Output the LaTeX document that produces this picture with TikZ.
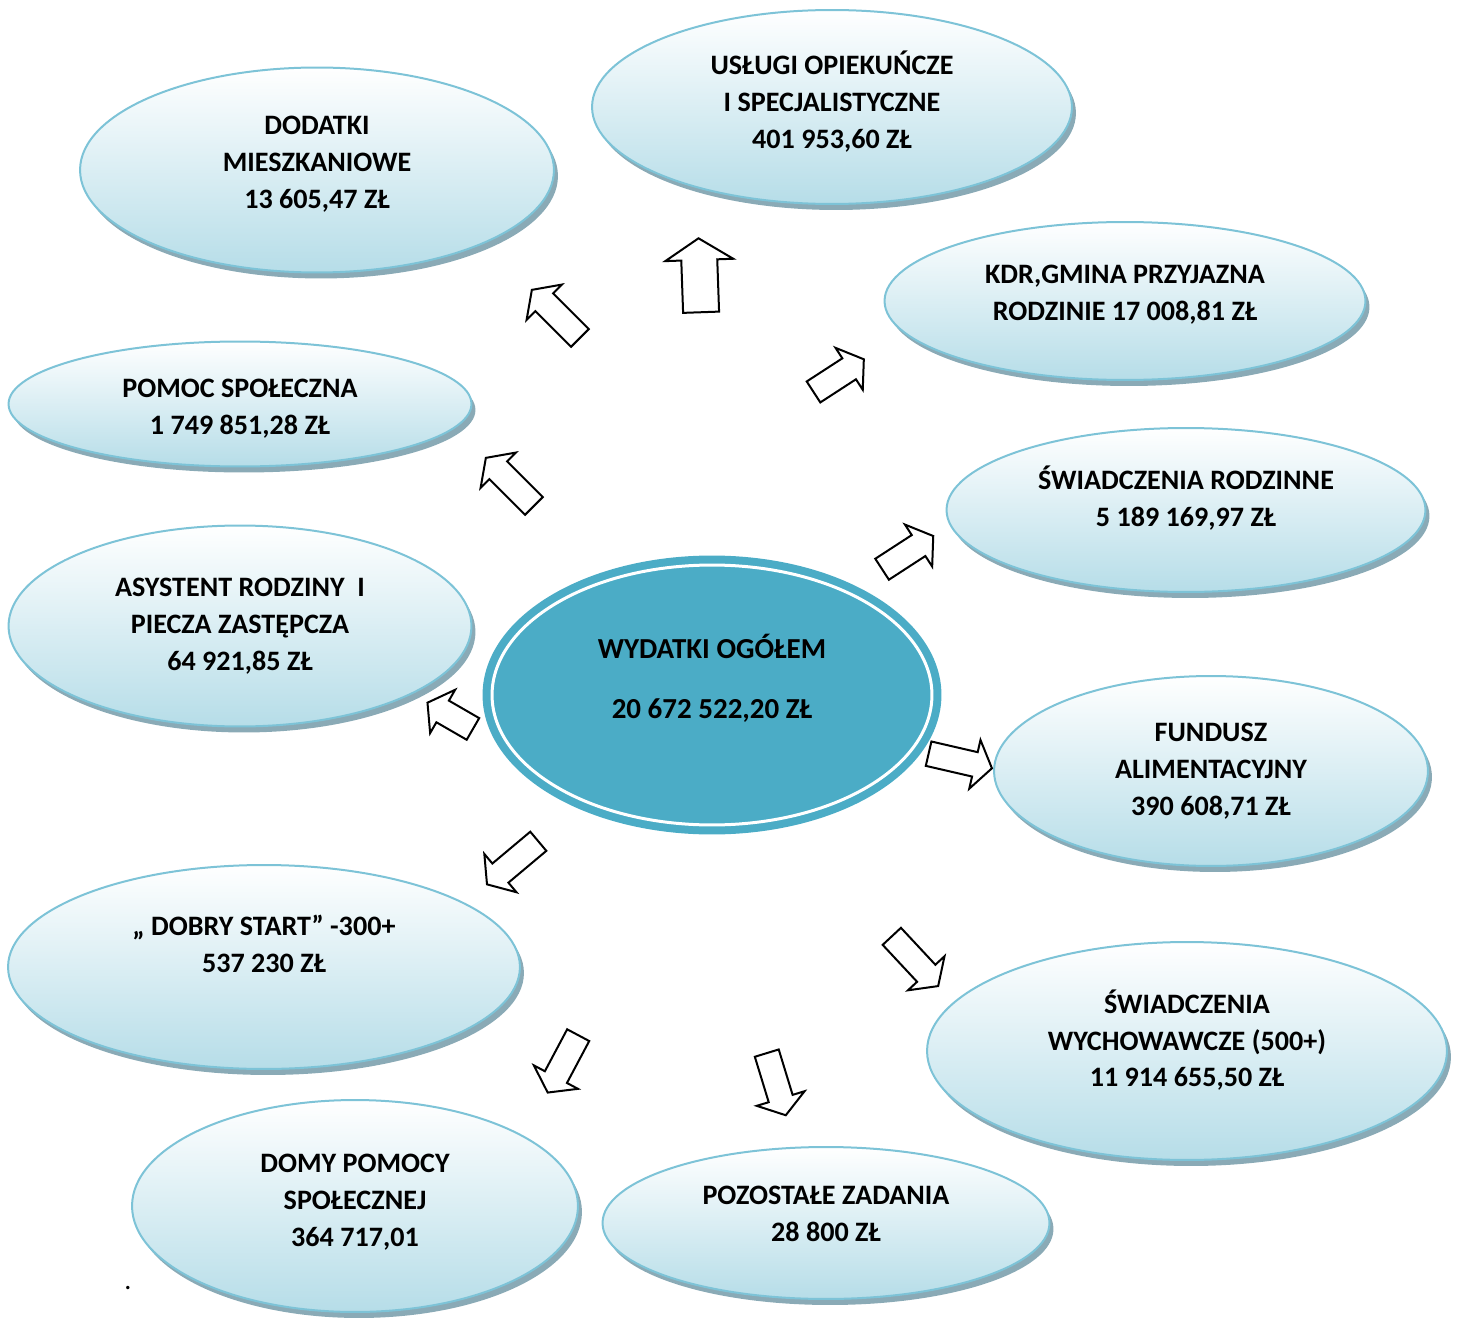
\documentclass[tikz,border=0pt]{standalone}
\usepackage{fontspec}
\setmainfont{Carlito}
\usetikzlibrary{shapes.geometric,shapes.arrows,shadows}
\definecolor{bubbleedge}{RGB}{125,195,215}
\definecolor{bubblebottom}{RGB}{182,221,232}
\definecolor{bubbleshadow}{RGB}{138,170,182}
\definecolor{centercolor}{RGB}{75,172,198}

\begin{document}
\begin{tikzpicture}[x=0.02cm,y=0.02cm,
    bubble/.style={ellipse, draw=bubbleedge, line width=0.04cm,
        top color=white, bottom color=bubblebottom, inner sep=0pt, align=center,
        font=\fontsize{16}{21}\selectfont\bfseries,
        drop shadow={fill=bubbleshadow, opacity=1, shadow xshift=0.08cm, shadow yshift=-0.12cm}},
    blockarrow/.style={single arrow, draw=black, fill=white, line width=0.04cm,
        inner sep=0.23cm, minimum height=1.3cm,
        single arrow head extend=0.25cm, single arrow tip angle=110}]
    % Page frame
    \useasboundingbox (0,0) rectangle (1461,-1321);

    % Central ellipse
    \node[ellipse, fill=centercolor, draw=centercolor, double=white, double distance=0.06cm,
        line width=0.16cm, minimum width=8.8cm, minimum height=5.2cm, inner sep=0pt,
        align=center, font=\fontsize{16.5}{21}\selectfont\bfseries]
        (total) at (712,-695) {WYDATKI OGÓŁEM\\[13pt]20 672 522,20 ZŁ\\\mbox{}};

    % Expense groups
    \node[bubble, minimum width=9.48cm, minimum height=4.10cm] (dodatki) at (317,-170)
        {DODATKI\\MIESZKANIOWE\\13 605,47 ZŁ\\[-12pt]\mbox{}};
    \node[bubble, minimum width=9.60cm, minimum height=3.88cm] (uslugi) at (832,-107)
        {USŁUGI OPIEKUŃCZE\\I SPECJALISTYCZNE\\401 953,60 ZŁ\\[-13pt]\mbox{}};
    \node[bubble, minimum width=9.62cm, minimum height=3.16cm] (kdr) at (1125,-301)
        {KDR,GMINA PRZYJAZNA\\RODZINIE 17 008,81 ZŁ\\[-12pt]\mbox{}};
    \node[bubble, minimum width=9.26cm, minimum height=2.50cm] (pomoc) at (240,-404)
        {\mbox{}\\[-5pt]POMOC SPOŁECZNA\\1 749 851,28 ZŁ};
    \node[bubble, minimum width=9.58cm, minimum height=3.28cm] (rodzinne) at (1186,-510)
        {ŚWIADCZENIA RODZINNE\\5 189 169,97 ZŁ\\[-5pt]\mbox{}};
    \node[bubble, minimum width=9.26cm, minimum height=4.02cm] (asystent) at (240,-626)
        {ASYSTENT RODZINY~~I\\PIECZA ZASTĘPCZA\\64 921,85 ZŁ};
    \node[bubble, minimum width=8.68cm, minimum height=3.80cm] (fundusz) at (1211,-771)
        {FUNDUSZ\\ALIMENTACYJNY\\390 608,71 ZŁ};
    \node[bubble, minimum width=10.24cm, minimum height=4.08cm] (dobrystart) at (264,-967)
        {„ DOBRY START” -300+\\537 230 ZŁ\\[5pt]\mbox{}};
    \node[bubble, minimum width=10.40cm, minimum height=4.36cm] (wychowawcze) at (1187,-1051)
        {ŚWIADCZENIA\\WYCHOWAWCZE (500+)\\11 914 655,50 ZŁ\\[-6.5pt]\mbox{}};
    \node[bubble, minimum width=8.92cm, minimum height=4.24cm] (domy) at (355,-1206)
        {DOMY POMOCY\\SPOŁECZNEJ\\364 717,01\\[-14.5pt]\mbox{}};
    \node[bubble, minimum width=8.94cm, minimum height=3.04cm] (pozostale) at (826,-1223)
        {POZOSTAŁE ZADANIA\\28 800 ZŁ\\[-11pt]\mbox{}};

    % Block arrows
    \node[blockarrow, rotate=135, minimum height=1.36cm] (toDodatki) at (559,-317) {};
    \node[blockarrow, rotate=92, inner sep=0.34cm, minimum height=1.48cm,
        single arrow head extend=0.32cm, single arrow tip angle=115] (toUslugi) at (700,-281) {};
    \node[blockarrow, rotate=33, minimum height=1.2cm] (toKdr) at (835,-378) {};
    \node[blockarrow, rotate=135, minimum height=1.36cm] (toPomoc) at (513,-485) {};
    \node[blockarrow, rotate=33, minimum height=1.22cm] (toRodzinne) at (904,-555) {};
    \node[blockarrow, rotate=150, minimum height=1.05cm] (toAsystent) at (454,-718) {};
    \node[blockarrow, rotate=-13] (toFundusz) at (956,-760) {};
    \node[blockarrow, rotate=220, minimum height=1.34cm] (toDobry) at (516,-860) {};
    \node[blockarrow, rotate=-47, minimum height=1.36cm] (toWych) at (912,-958) {};
    \node[blockarrow, rotate=-73] (toPozostale) at (775,-1080) {};
    \node[blockarrow, rotate=-118] (toDomy) at (565,-1060) {};

    \node[font=\fontsize{16}{21}\selectfont] (dot) at (128,-1288) {.};
\end{tikzpicture}
\end{document}
